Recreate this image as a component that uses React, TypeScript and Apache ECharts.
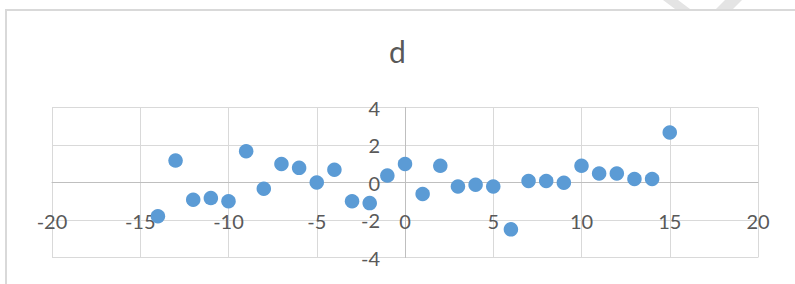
import React, { useEffect, useRef } from "react";
import * as echarts from "echarts";

const xValues = [-14, -13, -12, -11, -10, -9, -8, -7, -6, -5, -4, -3, -2, -1, 0, 1, 2, 3, 4, 5, 6, 7, 8, 9, 10, 11, 12, 13, 14, 15];
const yValues = [-1.8, 1.17, -0.92, -0.83, -1.0, 1.67, -0.33, 0.99, 0.78, 0, 0.68, -1.0, -1.1, 0.37, 0.99, -0.61, 0.89, -0.21, -0.12, -0.21, -2.5, 0.08, 0.08, -0.01, 0.89, 0.48, 0.48, 0.19, 0.19, 2.67];
const titleText = "d";

export default function App() {
  const ref = useRef<HTMLDivElement>(null);
  useEffect(() => {
    if (!ref.current) return;
    const chart = echarts.init(ref.current, undefined, { renderer: "svg" });
    const font = "Lato, 'Noto Sans', sans-serif";
    const gridLeft = 52;
    const gridTop = 107.5;
    const gridW = 706;
    const gridH = 150;
    // axes cross at zero: shift axes from grid edges to the zero position
    const xAxisOffset = -(gridH / 2);
    const yAxisOffset = -(gridW / 2);
    chart.setOption({
      animation: false,
      backgroundColor: "#ffffff",
      title: {
        text: titleText,
        left: "center",
        top: 31,
        textStyle: { fontFamily: font, fontSize: 30, fontWeight: "normal", color: "#595959" },
      },
      graphic: [
        {
          type: "polygon",
          shape: { points: [[663, 0], [678, 0], [690, 9], [675, 9]] },
          style: { fill: "#e4e4e4" },
        },
        {
          type: "polygon",
          shape: { points: [[725, 0], [742, 0], [733, 9], [716, 9]] },
          style: { fill: "#e4e4e4" },
        },
        {
          type: "rect",
          shape: { x: 6, y: 10, width: 820, height: 320 },
          style: { fill: "none", stroke: "#d9d9d9", lineWidth: 2 },
        },
      ],
      grid: { left: gridLeft, top: gridTop, width: gridW, height: gridH, containLabel: false, outerBoundsMode: "none" },
      xAxis: {
        type: "value",
        position: "bottom",
        offset: xAxisOffset,
        min: -20,
        max: 20,
        interval: 5,
        axisLine: { onZero: false, lineStyle: { color: "#bfbfbf", width: 1 } },
        axisTick: { show: false },
        axisLabel: { fontFamily: font, fontSize: 20, color: "#595959", margin: 28 },
        splitLine: { show: true, lineStyle: { color: "#d9d9d9", width: 1 } },
      },
      yAxis: {
        type: "value",
        position: "left",
        offset: yAxisOffset,
        min: -4,
        max: 4,
        interval: 2,
        axisLine: { onZero: false, lineStyle: { color: "#bfbfbf", width: 1 } },
        axisTick: { show: false },
        axisLabel: { fontFamily: font, fontSize: 20, color: "#595959", margin: 25 },
        splitLine: { show: true, lineStyle: { color: "#d9d9d9", width: 1 } },
      },
      series: [
        {
          type: "scatter",
          data: xValues.map((x, i) => [x, yValues[i]]),
          symbolSize: 14.5,
          itemStyle: { color: "#5b9bd5", opacity: 1 },
          z: 5,
        },
      ],
    });
    return () => chart.dispose();
  }, []);
  return (
    <div style={{ position: "fixed", left: 0, top: 0, width: 795, height: 284 }}>
      <div ref={ref} style={{ width: 795, height: 284 }} />
    </div>
  );
}
